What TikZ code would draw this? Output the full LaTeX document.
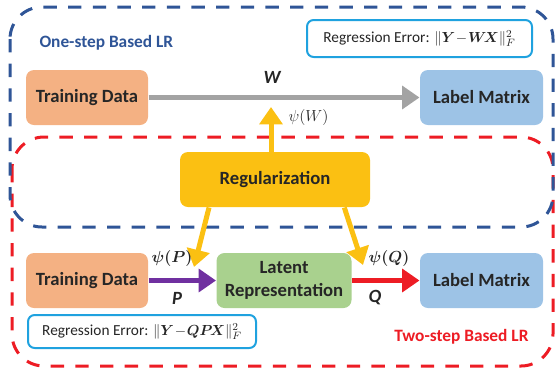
\documentclass[tikz,border=0pt]{standalone}
\usepackage{amsmath}
\usepackage{fontspec}
\setmainfont{Carlito}
\usetikzlibrary{arrows.meta}

\definecolor{orangeF}{RGB}{244,177,131}
\definecolor{blueF}{RGB}{157,195,230}
\definecolor{greenF}{RGB}{169,209,142}
\definecolor{goldF}{RGB}{251,192,18}
\definecolor{grayA}{RGB}{163,163,163}
\definecolor{blueD}{RGB}{47,85,151}
\definecolor{redD}{RGB}{237,28,36}
\definecolor{cyanB}{RGB}{31,162,223}
\definecolor{purpleA}{RGB}{112,48,160}
\definecolor{txt}{RGB}{38,38,38}

\tikzset{every picture/.style={line width=0.75pt}}
\tikzset{
  blk/.style={rounded corners=6pt, inner sep=0pt, minimum width=91.5pt, minimum height=41.25pt,
    align=center, text=txt, font=\bfseries\fontsize{14}{17}\selectfont},
  errbox/.style={draw=cyanB, line width=1.5pt, fill=white, rounded corners=5pt, inner sep=0pt,
    text=txt, font=\fontsize{11.5}{14}\selectfont},
  frame/.style={line width=2.25pt, dash pattern=on 10pt off 8.5pt, rounded corners=24pt},
  fat/.style={line width=3.75pt, -{Triangle[length=13pt,width=17pt]}},
  lbl/.style={inner sep=0pt, text=txt, font=\fontsize{12}{14}\selectfont},
  ttl/.style={inner sep=0pt, font=\bfseries\fontsize{13}{16}\selectfont},
}

\begin{document}
\begin{tikzpicture}[x=0.75pt,y=0.75pt,yscale=-1,xscale=1]
\useasboundingbox (0,0) rectangle (556,376);
%Rounded Rect dashed, two-step
\draw [frame, redD] (12,137) rectangle (553,366);
%Rounded Rect dashed, one-step
\draw [frame, blueD] (10,7) rectangle (553,227);

% Boxes
\node [blk, fill=orangeF] (td1) at (87,97.5) {Training Data};
\node [blk, fill=blueF, minimum width=92.25pt] (lm1) at (481.5,97.5) {Label Matrix};
\node [blk, fill=goldF, minimum width=142.5pt] (reg) at (275,179.5) {Regularization};
\node [blk, fill=orangeF] (td2) at (87,280.5) {Training Data};
\node [blk, fill=greenF, minimum width=101.25pt] (lat) at (284,280.5) {Latent\\Representation};
\node [blk, fill=blueF, minimum width=92.25pt] (lm2) at (481.5,280.5) {Label Matrix};

% Error boxes
\node [errbox, minimum width=168.75pt, minimum height=27.75pt] (err1) at (419.5,38.5)
  {Regression Error: \fontsize{11}{13}\selectfont$\|\boldsymbol{Y}\!-\!\boldsymbol{W}\!\boldsymbol{X}\|_F^2$};
\node [errbox, minimum width=171pt, minimum height=24.75pt] (err2) at (142,331.5)
  {Regression Error: \fontsize{11}{13}\selectfont$\|\boldsymbol{Y}\!-\!\boldsymbol{Q}\boldsymbol{P}\!\boldsymbol{X}\|_F^2$};

% Titles
\node [ttl, blueD, anchor=west] (ttl1) at (39,43) {One-step Based LR};
\node [ttl, redD, anchor=east] (ttl2) at (529,337) {Two-step Based LR};

% Arrow ends
\coordinate (yW) at (271,107);
\coordinate (yP) at (194,267);
\coordinate (yQ) at (363,265);

%Straight Lines
\draw [fat, grayA] (td1) -- (lm1);
\draw [fat, purpleA] (td2) -- (lat);
\draw [fat, redD] (lat) -- (lm2);
%Straight Lines, regularization
\draw [fat, goldF] (reg.north -| yW) -- (yW);
\draw [fat, goldF] (reg.203.6) -- (yP);
\draw [fat, goldF] (reg.-22) -- (yQ);

% Text Node
\node [lbl, font=\bfseries\itshape\fontsize{14}{16}\selectfont] (lW) at (272,77) {W};
\node [lbl, anchor=west] (lpW) at (288,117) {$\psi(W)$};
\node [lbl, font=\bfseries\itshape\fontsize{14}{16}\selectfont] (lP) at (177,298) {P};
\node [lbl] (lpP) at (172,258) {$\boldsymbol{\psi(P)}$};
\node [lbl, font=\bfseries\itshape\fontsize{14}{16}\selectfont] (lQ) at (375,298) {Q};
\node [lbl] (lpQ) at (389,258) {$\boldsymbol{\psi(Q)}$};
\end{tikzpicture}
\end{document}
